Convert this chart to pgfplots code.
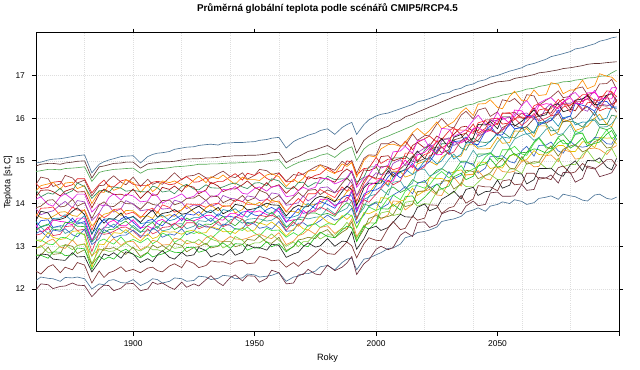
\documentclass[border=0pt]{standalone}
\usepackage{fontspec}
\setmainfont{Liberation Sans}
\usepackage{pgfplots}
\usepackage{pgfplotstable}
\pgfplotsset{compat=1.18}

\definecolor{c1}{HTML}{4A7397}
\definecolor{c2}{HTML}{603030}
\definecolor{c3}{HTML}{55AA55}
\definecolor{c4}{HTML}{8B3A3A}
\definecolor{c5}{HTML}{E02020}
\definecolor{c6}{HTML}{FF8C00}
\definecolor{c7}{HTML}{2E8B57}
\definecolor{c8}{HTML}{A01010}
\definecolor{c9}{HTML}{E020E0}
\definecolor{c10}{HTML}{7B3F2F}
\definecolor{c11}{HTML}{A040C0}
\definecolor{c12}{HTML}{FF3030}
\definecolor{c13}{HTML}{E8A000}
\definecolor{c14}{HTML}{101010}
\definecolor{c15}{HTML}{1890B0}
\definecolor{c16}{HTML}{2040E0}
\definecolor{c17}{HTML}{FF00CC}
\definecolor{c18}{HTML}{30B030}
\definecolor{c19}{HTML}{40A0A0}
\definecolor{c20}{HTML}{E03050}
\definecolor{c21}{HTML}{3060C0}
\definecolor{c22}{HTML}{E6C000}
\definecolor{c23}{HTML}{40E040}
\definecolor{c24}{HTML}{F09030}
\definecolor{c25}{HTML}{80D040}
\definecolor{c26}{HTML}{808020}
\definecolor{c27}{HTML}{20C020}
\definecolor{c28}{HTML}{202020}
\definecolor{c29}{HTML}{7A3030}
\definecolor{c30}{HTML}{4A7397}
\definecolor{c31}{HTML}{6A2A3A}

\pgfplotscreateplotcyclelist{models}{
c1\\c2\\c3\\c4\\c5\\c6\\c7\\c8\\c9\\c10\\c11\\c12\\c13\\c14\\c15\\c16\\c17\\c18\\c19\\c20\\c21\\c22\\c23\\c24\\c25\\c26\\c27\\c28\\c29\\c30\\c31\\
}

\pgfplotstableread{
year s1 s2 s3 s4 s5 s6 s7 s8 s9 s10 s11 s12 s13 s14 s15 s16 s17 s18 s19 s20 s21 s22 s23 s24 s25 s26 s27 s28 s29 s30 s31
1860 14.95 14.88 14.75 14.45 14.47 14.30 14.31 14.16 14.10 13.90 13.88 13.70 13.76 13.60 13.58 13.45 13.50 13.36 13.40 13.26 13.30 13.15 13.14 12.96 12.94 12.80 12.79 12.66 12.42 12.20 11.98
1862 14.97 14.92 14.77 14.62 14.35 14.42 14.16 14.31 14.16 13.94 13.74 13.89 13.67 13.82 13.45 13.60 13.34 13.46 13.45 13.29 13.36 13.11 13.15 12.98 13.02 12.79 12.79 12.82 12.35 12.28 12.12
1865 15.02 14.94 14.80 14.58 14.38 14.46 14.25 14.32 13.98 14.08 13.80 13.90 13.64 13.78 13.50 13.62 13.40 13.52 13.30 13.45 13.20 13.32 13.05 13.12 12.85 12.98 12.72 12.80 12.52 12.25 12.10
1867 15.04 14.94 14.80 14.40 14.50 14.50 14.22 14.28 13.94 14.09 13.83 13.92 13.70 13.61 13.65 13.44 13.62 13.40 13.44 13.25 13.38 13.21 13.04 13.17 12.85 12.81 12.87 12.70 12.57 12.24 12.01
1870 15.05 14.92 14.79 14.46 14.52 14.33 14.36 14.18 14.16 13.92 13.97 13.72 13.80 13.63 13.66 13.48 13.58 13.38 13.46 13.28 13.35 13.16 13.20 12.98 13.00 12.83 12.86 12.68 12.38 12.18 12.06
1872 15.07 14.95 14.82 14.66 14.39 14.48 14.22 14.29 14.23 13.94 14.05 13.69 13.81 13.67 13.74 13.47 13.57 13.56 13.30 13.46 13.41 13.18 13.21 12.95 13.03 13.04 12.78 12.67 12.51 12.27 12.07
1875 15.10 14.97 14.83 14.60 14.44 14.50 14.30 14.35 14.10 14.10 13.90 13.92 13.72 13.82 13.58 13.66 13.50 13.55 13.38 13.48 13.27 13.35 13.13 13.15 12.92 13.00 12.80 12.85 12.45 12.26 12.14
1877 15.12 14.99 14.84 14.48 14.58 14.35 14.48 14.27 14.22 13.94 14.07 13.85 13.70 13.90 13.57 13.52 13.66 13.47 13.57 13.37 13.22 13.36 13.31 13.02 13.02 12.83 12.96 12.75 12.62 12.28 12.09
1880 15.14 15.00 14.86 14.55 14.58 14.42 14.40 14.28 14.22 14.02 14.04 13.84 13.86 13.74 13.72 13.58 13.66 13.46 13.52 13.40 13.40 13.26 13.28 13.06 13.05 12.92 12.94 12.76 12.56 12.24 12.08
1883 14.72 14.60 14.52 14.18 14.25 14.00 14.12 13.90 13.80 13.65 13.60 13.38 13.48 13.28 13.30 13.12 13.14 13.10 13.10 12.88 13.04 12.50 12.76 12.78 12.60 12.58 12.46 12.40 12.14 12.00 11.82
1886 14.92 14.86 14.73 14.42 14.45 14.28 14.30 14.22 13.98 13.97 13.78 13.76 13.64 13.67 13.49 13.52 13.38 13.42 13.28 13.32 13.18 13.05 13.12 12.94 12.92 12.78 12.77 12.64 12.42 12.12 12.00
1888 14.98 14.88 14.76 14.43 14.55 14.26 14.31 14.34 13.94 14.04 13.97 13.67 13.75 13.54 13.64 13.63 13.42 13.31 13.45 13.28 13.39 13.04 13.17 12.90 12.92 12.96 12.69 12.82 12.27 12.10 12.09
1890 15.02 14.91 14.78 14.56 14.40 14.44 14.26 14.28 14.14 13.94 13.95 13.74 13.78 13.65 13.64 13.50 13.56 13.39 13.44 13.30 13.33 13.20 13.10 13.08 12.88 12.94 12.75 12.78 12.38 12.20 12.08
1892 15.05 14.94 14.80 14.65 14.39 14.31 14.39 14.21 14.23 13.93 13.80 13.86 13.85 13.63 13.64 13.44 13.61 13.40 13.52 13.35 13.20 13.32 13.05 13.18 12.89 12.97 12.70 12.85 12.42 12.22 11.96
1895 15.10 14.95 14.81 14.50 14.53 14.38 14.36 14.22 14.08 14.06 13.88 13.88 13.72 13.78 13.58 13.64 13.48 13.52 13.38 13.44 13.26 13.30 13.22 13.02 13.00 12.88 12.88 12.72 12.52 12.15 12.02
1897 15.11 14.97 14.82 14.44 14.56 14.56 14.29 14.18 14.22 14.00 14.07 13.75 13.84 13.63 13.66 13.70 13.48 13.59 13.31 13.45 13.26 13.39 13.09 13.10 13.07 12.81 12.93 12.87 12.41 12.14 12.12
1900 15.12 14.97 14.83 14.62 14.45 14.49 14.31 14.34 14.18 13.99 13.99 13.80 13.83 13.70 13.69 13.56 13.62 13.44 13.49 13.36 13.38 13.24 13.16 13.12 12.95 12.98 12.81 12.82 12.46 12.22 12.13
1903 14.95 14.83 14.71 14.40 14.42 14.26 14.28 14.12 14.04 13.87 13.83 13.66 13.69 13.56 13.53 13.41 13.43 13.32 13.34 13.20 13.24 13.12 13.08 12.92 12.89 12.76 12.73 12.62 12.38 12.08 11.96
1906 15.10 14.93 14.80 14.57 14.42 14.45 14.27 14.29 14.06 14.04 13.86 13.85 13.71 13.75 13.56 13.60 13.47 13.49 13.36 13.41 13.25 13.29 13.19 13.01 12.99 12.86 12.85 12.71 12.49 12.16 12.00
1908 15.15 14.95 14.81 14.45 14.50 14.28 14.41 14.19 14.23 13.98 13.82 13.89 13.65 13.85 13.57 13.63 13.41 13.56 13.39 13.29 13.43 13.18 13.06 13.14 12.92 13.03 12.75 12.64 12.51 12.24 12.16
1910 15.18 14.96 14.82 14.50 14.52 14.37 14.37 14.21 14.17 13.96 13.97 13.78 13.81 13.68 13.67 13.53 13.59 13.42 13.47 13.34 13.36 13.22 13.13 13.11 12.92 12.96 12.79 12.80 12.43 12.22 12.11
1912 15.19 14.98 14.82 14.45 14.50 14.53 14.27 14.38 14.01 14.07 13.87 13.97 13.68 13.77 13.73 13.48 13.63 13.58 13.36 13.44 13.21 13.35 13.31 13.03 12.88 13.02 12.82 12.90 12.40 12.14 12.14
1915 15.22 14.98 14.84 14.61 14.44 14.49 14.30 14.33 14.10 14.08 13.89 13.91 13.74 13.80 13.60 13.66 13.51 13.53 13.40 13.46 13.29 13.33 13.24 13.04 13.03 12.90 12.90 12.74 12.54 12.18 12.04
1917 15.27 14.99 14.86 14.72 14.46 14.53 14.23 14.41 14.14 13.97 14.08 13.80 13.70 13.86 13.63 13.75 13.52 13.39 13.52 13.54 13.26 13.34 13.09 13.19 12.95 13.07 12.86 12.70 12.59 12.26 11.99
1920 15.30 15.02 14.87 14.56 14.57 14.44 14.40 14.28 14.23 14.03 14.03 13.85 13.86 13.75 13.73 13.60 13.66 13.48 13.53 13.42 13.41 13.28 13.20 13.15 12.98 13.02 12.85 12.86 12.50 12.24 12.16
1922 15.32 15.04 14.88 14.64 14.63 14.38 14.45 14.43 14.12 14.12 13.88 13.99 13.95 13.77 13.60 13.76 13.60 13.66 13.41 13.55 13.27 13.35 13.35 13.06 13.14 12.87 12.97 12.77 12.67 12.18 12.04
1925 15.33 15.05 14.90 14.66 14.50 14.55 14.34 14.38 14.17 14.13 13.97 13.98 13.80 13.88 13.67 13.73 13.60 13.58 13.47 13.55 13.35 13.38 13.30 13.10 13.08 12.97 12.98 12.80 12.60 12.20 12.12
1927 15.36 15.05 14.92 14.71 14.51 14.64 14.32 14.23 14.28 14.20 13.94 13.98 13.72 13.94 13.67 13.81 13.64 13.45 13.60 13.41 13.53 13.30 13.34 13.03 13.16 12.99 12.86 12.97 12.50 12.30 12.07
1930 15.38 15.07 14.92 14.60 14.60 14.49 14.44 14.32 14.28 14.07 14.08 13.91 13.90 13.81 13.78 13.66 13.72 13.52 13.58 13.48 13.45 13.32 13.25 13.20 13.03 13.07 12.91 12.90 12.55 12.28 12.22
1932 15.39 15.07 14.93 14.60 14.46 14.63 14.37 14.50 14.15 14.18 13.93 13.98 13.97 13.79 13.85 13.58 13.73 13.51 13.66 13.43 13.45 13.46 13.17 13.25 13.17 12.96 13.00 12.75 12.66 12.22 12.31
1935 15.37 15.08 14.93 14.70 14.52 14.58 14.36 14.41 14.20 14.16 14.00 14.01 13.83 13.91 13.70 13.76 13.63 13.61 13.50 13.58 13.38 13.41 13.33 13.13 13.11 13.00 13.01 12.83 12.63 12.25 12.15
1937 15.41 15.10 14.94 14.76 14.52 14.67 14.39 14.28 14.33 14.02 14.19 13.93 13.95 13.76 13.86 13.70 13.61 13.70 13.48 13.46 13.52 13.34 13.43 13.11 12.96 13.11 13.08 12.79 12.64 12.32 12.08
1940 15.42 15.11 14.95 14.63 14.63 14.53 14.46 14.35 14.32 14.10 14.12 13.95 13.94 13.85 13.82 13.70 13.77 13.55 13.62 13.53 13.49 13.35 13.28 13.23 13.05 13.11 12.95 12.93 12.58 12.30 12.27
1942 15.43 15.12 14.95 14.61 14.70 14.45 14.48 14.34 14.40 14.05 14.11 14.09 13.78 13.98 13.88 13.67 13.77 13.48 13.65 13.70 13.40 13.30 13.42 13.17 13.23 12.99 13.06 12.79 12.65 12.24 12.33
1945 15.43 15.12 14.96 14.72 14.55 14.62 14.39 14.44 14.24 14.19 14.04 14.05 13.86 13.95 13.74 13.80 13.68 13.64 13.54 13.63 13.41 13.44 13.37 13.16 13.14 13.04 13.05 12.86 12.67 12.26 12.19
1947 15.44 15.13 14.97 14.57 14.71 14.56 14.35 14.53 14.22 14.06 14.18 13.98 14.04 13.85 13.68 13.82 13.84 13.52 13.63 13.47 13.56 13.35 13.45 13.19 13.01 13.16 12.91 13.04 12.59 12.35 12.31
1950 15.45 15.13 14.97 14.66 14.66 14.56 14.48 14.38 14.35 14.13 14.15 13.98 13.97 13.88 13.85 13.73 13.80 13.58 13.65 13.56 13.52 13.38 13.31 13.26 13.08 13.14 12.98 12.96 12.61 12.33 12.30
1952 15.48 15.14 14.99 14.80 14.73 14.54 14.49 14.32 14.39 14.31 14.07 13.95 14.03 13.92 13.95 13.71 13.83 13.53 13.64 13.73 13.42 13.55 13.24 13.29 13.08 13.24 12.95 12.97 12.76 12.28 12.16
1955 15.50 15.16 15.00 14.77 14.59 14.67 14.42 14.49 14.29 14.24 14.09 14.11 13.91 14.01 13.79 13.86 13.74 13.69 13.59 13.69 13.46 13.49 13.42 13.21 13.19 13.09 13.11 12.91 12.72 12.30 12.25
1957 15.53 15.19 15.01 14.68 14.53 14.70 14.58 14.38 14.39 14.09 14.25 14.03 14.08 13.97 13.76 13.91 13.71 13.80 13.61 13.73 13.40 13.57 13.37 13.18 13.29 13.07 12.99 13.05 12.66 12.32 12.44
1960 15.55 15.20 15.03 14.72 14.71 14.63 14.53 14.44 14.42 14.19 14.22 14.06 14.03 13.96 13.92 13.81 13.89 13.64 13.72 13.65 13.58 13.44 13.38 13.32 13.14 13.21 13.06 13.02 12.68 12.38 12.38
1963 15.30 14.96 14.82 14.52 14.51 14.40 14.36 14.24 14.16 13.99 13.96 13.81 13.80 13.71 13.66 13.56 13.58 13.44 13.46 13.37 13.35 13.24 13.21 13.04 13.00 12.90 12.87 12.74 12.51 12.18 12.12
1966 15.45 15.06 14.91 14.68 14.52 14.57 14.36 14.40 14.19 14.15 13.99 14.00 13.82 13.90 13.69 13.75 13.62 13.60 13.49 13.57 13.37 13.40 13.32 13.12 13.10 12.99 13.00 12.82 12.62 12.28 12.14
1968 15.51 15.10 14.96 14.66 14.73 14.49 14.49 14.30 14.31 14.26 14.02 14.12 13.78 13.96 13.73 13.88 13.63 13.64 13.68 13.47 13.54 13.51 13.25 13.25 12.99 13.15 13.13 12.86 12.53 12.30 12.33
1970 15.55 15.16 15.00 14.69 14.68 14.59 14.50 14.41 14.38 14.16 14.18 14.02 14.00 13.92 13.88 13.77 13.84 13.61 13.68 13.60 13.55 13.41 13.34 13.29 13.11 13.17 13.02 12.99 12.64 12.36 12.34
1972 15.60 15.22 15.03 14.76 14.57 14.76 14.39 14.63 14.33 14.31 14.06 14.23 13.96 13.93 14.00 13.80 13.75 13.78 13.64 13.83 13.47 13.38 13.49 13.39 13.11 13.21 12.99 13.08 12.68 12.36 12.46
1975 15.65 15.26 15.08 14.86 14.66 14.78 14.49 14.58 14.38 14.33 14.18 14.23 13.98 14.12 13.88 13.98 13.86 13.78 13.68 13.82 13.53 13.58 13.53 13.28 13.28 13.18 13.22 12.98 12.83 12.42 12.35
1977 15.71 15.30 15.13 14.91 14.69 14.90 14.47 14.61 14.58 14.21 14.37 14.33 14.00 14.17 13.87 14.05 14.10 13.73 13.69 13.92 13.60 13.71 13.44 13.44 13.17 13.31 13.33 13.01 12.94 12.52 12.33
1980 15.75 15.36 15.17 14.85 14.84 14.78 14.64 14.57 14.59 14.32 14.39 14.23 14.18 14.13 14.09 13.98 14.10 13.77 13.89 13.84 13.73 13.57 13.53 13.48 13.27 13.39 13.23 13.18 12.83 12.55 12.56
1983 15.62 15.26 15.08 14.78 14.72 14.70 14.56 14.50 14.46 14.25 14.26 14.14 14.06 14.04 13.96 13.89 13.94 13.70 13.76 13.73 13.61 13.50 13.51 13.30 13.26 13.20 13.20 13.00 12.81 12.45 12.43
1986 15.78 15.41 15.22 14.99 14.78 14.93 14.58 14.72 14.53 14.47 14.33 14.39 14.12 14.28 14.03 14.14 14.05 13.92 13.83 14.01 13.67 13.72 13.68 13.42 13.42 13.33 13.38 13.12 12.98 12.62 12.51
1988 15.85 15.47 15.28 14.91 15.00 14.87 14.57 14.81 14.61 14.60 14.38 14.29 14.28 14.41 14.06 14.19 14.06 14.02 13.89 14.15 13.76 13.63 13.77 13.42 13.56 13.40 13.47 13.11 13.10 12.70 12.61
1990 15.90 15.54 15.33 15.01 14.97 14.96 14.76 14.73 14.77 14.48 14.57 14.43 14.34 14.33 14.27 14.18 14.32 13.93 14.07 14.06 13.89 13.73 13.71 13.64 13.43 13.57 13.43 13.34 13.01 12.72 12.76
1992 15.62 15.18 15.01 14.71 14.67 14.62 14.50 14.43 14.38 14.18 14.18 14.05 13.99 13.95 13.88 13.80 13.85 13.63 13.68 13.64 13.54 13.43 13.43 13.23 13.19 13.12 13.11 12.93 12.73 12.45 12.34
1995 15.85 15.48 15.28 15.06 14.82 15.01 14.62 14.79 14.60 14.54 14.40 14.47 14.18 14.37 14.10 14.22 14.13 13.99 13.90 14.09 13.73 13.79 13.76 13.48 13.49 13.40 13.47 13.18 13.06 12.70 12.59
1997 15.96 15.57 15.37 15.14 14.83 15.12 14.86 14.77 14.66 14.66 14.53 14.65 14.24 14.48 14.15 14.29 14.42 13.95 14.17 14.03 13.93 13.76 13.92 13.53 13.55 13.65 13.40 13.41 13.20 12.72 12.68
2000 16.05 15.68 15.45 15.13 15.08 15.09 14.86 14.84 14.92 14.59 14.72 14.57 14.47 14.47 14.42 14.32 14.50 14.04 14.22 14.22 14.02 13.84 13.84 13.77 13.54 13.72 13.57 13.47 13.14 12.80 12.93
2002 16.09 15.75 15.52 15.40 14.94 15.28 14.67 15.10 14.83 14.87 14.68 14.60 14.55 14.48 14.58 14.39 14.59 14.02 14.34 14.35 13.89 14.14 13.89 13.63 13.78 13.66 13.88 13.37 13.13 12.85 13.00
2005 16.12 15.81 15.58 15.40 15.04 15.38 14.81 15.12 14.90 14.87 14.70 14.88 14.44 14.77 14.40 14.63 14.51 14.32 14.20 14.55 13.99 14.12 14.13 13.74 13.82 13.70 13.87 13.44 13.43 12.95 12.92
2007 16.16 15.89 15.63 15.46 15.04 15.39 15.07 15.00 15.21 14.67 14.94 14.79 14.76 14.63 14.61 14.74 14.53 14.39 14.50 14.44 14.20 13.93 14.20 14.06 13.72 13.74 13.98 13.56 13.58 12.96 12.97
2010 16.22 15.95 15.70 15.35 15.32 15.34 15.07 15.06 15.23 14.81 15.03 14.85 14.75 14.75 14.73 14.60 14.87 14.26 14.53 14.53 14.30 14.06 14.09 14.05 13.76 14.03 13.85 13.75 13.39 13.05 13.26
2012 16.26 16.03 15.75 15.35 15.46 15.43 15.11 15.05 15.34 14.92 14.89 15.18 14.62 14.79 14.81 14.72 15.02 14.32 14.35 14.78 14.40 14.09 14.29 13.85 14.03 13.93 14.16 13.69 13.42 13.20 13.34
2015 16.32 16.09 15.82 15.63 15.26 15.66 14.99 15.36 15.18 15.11 14.98 15.18 14.68 15.08 14.68 14.94 14.84 14.56 14.48 14.89 14.23 14.36 14.41 13.98 14.06 13.98 14.18 13.68 13.71 13.25 13.23
2017 16.38 16.14 15.89 15.48 15.43 15.76 14.96 15.43 15.47 14.98 15.19 15.01 14.93 15.23 14.77 14.79 15.14 14.49 14.81 14.76 14.47 14.19 14.42 14.27 13.94 14.28 14.00 13.91 13.61 13.32 13.56
2020 16.42 16.21 15.94 15.59 15.52 15.61 15.25 15.30 15.50 15.05 15.30 15.15 14.99 15.05 15.00 14.90 15.20 14.50 14.80 14.86 14.54 14.30 14.36 14.29 14.00 14.30 14.15 13.99 13.66 13.35 13.57
2022 16.46 16.26 16.00 15.60 15.58 15.71 15.37 15.35 15.31 15.26 15.40 15.19 14.99 15.04 15.09 14.98 15.31 14.61 14.64 15.12 14.36 14.61 14.44 14.33 13.98 14.40 14.27 13.83 13.97 13.38 13.44
2025 16.52 16.33 16.04 15.86 15.44 15.91 15.16 15.58 15.43 15.33 15.23 15.47 14.90 15.37 14.93 15.22 15.14 14.78 14.73 15.19 14.45 14.58 14.66 14.20 14.28 14.23 14.46 13.90 13.96 13.45 13.51
2027 16.57 16.38 16.10 15.99 15.50 15.75 15.40 15.51 15.76 15.18 15.47 15.30 15.08 15.52 15.00 15.33 15.15 14.82 14.81 15.33 14.47 14.59 14.75 14.19 14.35 14.52 14.34 14.10 13.77 13.58 13.76
2030 16.60 16.45 16.15 15.80 15.70 15.85 15.40 15.51 15.74 15.26 15.54 15.41 15.20 15.31 15.24 15.16 15.49 14.71 15.04 15.15 14.75 14.51 14.60 14.50 14.21 14.54 14.41 14.20 13.90 13.62 13.83
2032 16.66 16.50 16.21 15.77 15.78 15.92 15.49 15.62 15.57 15.49 15.36 15.74 15.09 15.55 15.04 15.45 15.42 14.73 15.16 15.21 14.58 14.75 14.70 14.62 14.26 14.34 14.63 14.29 13.93 13.64 13.84
2035 16.70 16.56 16.25 16.07 15.61 16.14 15.30 15.79 15.66 15.54 15.46 15.72 15.11 15.62 15.16 15.47 15.42 14.99 14.96 15.47 14.66 14.79 14.89 14.41 14.49 14.46 14.71 14.11 14.19 13.70 13.76
2037 16.76 16.60 16.30 16.16 15.65 16.24 15.25 15.81 15.73 15.65 15.48 15.72 15.37 15.42 15.41 15.56 15.49 14.99 14.95 15.53 14.96 14.67 14.72 14.67 14.40 14.78 14.56 14.33 14.01 13.80 13.94
2040 16.80 16.66 16.33 15.98 15.86 16.06 15.54 15.69 15.95 15.44 15.75 15.64 15.38 15.54 15.45 15.39 15.75 14.89 15.25 15.41 14.93 14.69 14.81 14.68 14.39 14.75 14.64 14.38 14.11 13.85 14.06
2042 16.86 16.70 16.38 16.19 15.65 16.33 15.45 15.71 16.07 15.48 15.58 15.89 15.28 15.85 15.32 15.38 15.78 15.16 15.09 15.61 14.71 14.95 14.87 14.77 14.50 14.58 14.88 14.19 14.42 13.90 13.95
2045 16.90 16.76 16.42 16.24 15.76 16.34 15.43 15.96 15.86 15.71 15.66 15.94 15.28 15.84 15.36 15.69 15.67 15.16 15.16 15.72 14.83 14.96 15.09 14.58 14.66 14.66 14.93 14.28 14.39 13.82 13.98
2047 16.96 16.80 16.47 16.04 15.98 16.43 15.45 15.96 15.84 15.75 15.96 15.83 15.29 15.92 15.46 15.82 15.71 15.19 15.16 15.71 15.10 14.82 15.19 14.55 14.68 14.72 15.05 14.29 14.39 13.94 14.25
2050 17.00 16.85 16.50 16.15 16.00 16.25 15.66 15.86 16.14 15.61 15.94 15.85 15.55 15.75 15.64 15.60 15.98 15.06 15.44 15.64 15.10 14.86 15.00 14.85 14.56 14.94 14.85 14.55 14.30 13.98 14.27
2052 17.04 16.86 16.54 16.43 15.86 16.22 15.68 16.12 15.97 15.78 15.72 16.11 15.41 16.03 15.56 15.61 16.02 15.05 15.56 15.72 15.12 14.83 15.26 14.75 14.57 15.05 14.89 14.36 14.53 14.04 14.17
2055 17.10 16.88 16.57 16.39 15.89 16.51 15.55 16.11 16.03 15.86 15.83 16.13 15.43 16.03 15.53 15.88 15.88 15.31 15.33 15.93 14.98 15.11 15.26 14.73 14.81 14.83 15.12 14.43 14.56 14.00 14.17
2057 17.13 16.93 16.60 16.46 15.97 16.63 15.54 16.14 16.03 15.84 16.10 15.99 15.70 15.81 15.74 15.75 16.19 15.13 15.51 16.00 14.95 15.16 15.34 14.76 14.81 14.81 15.17 14.72 14.44 14.09 14.18
2060 17.18 16.96 16.64 16.29 16.12 16.41 15.77 16.00 16.30 15.75 16.10 16.03 15.69 15.93 15.80 15.78 16.17 15.20 15.60 15.83 15.24 15.00 15.16 14.99 14.70 15.10 15.03 14.69 14.46 14.05 14.45
2062 17.24 16.98 16.68 16.55 16.03 16.41 15.80 15.98 16.41 15.80 16.12 16.00 15.76 16.02 15.62 16.07 16.02 15.19 15.64 15.92 15.34 15.03 15.13 15.00 14.95 14.92 15.20 14.46 14.71 13.98 14.31
2065 17.28 17.02 16.70 16.52 16.00 16.66 15.64 16.24 16.18 15.99 15.98 16.29 15.56 16.19 15.68 16.04 16.06 15.44 15.48 16.11 15.11 15.24 15.41 14.86 14.94 14.98 15.28 14.56 14.71 14.02 14.33
2067 17.32 17.06 16.74 16.30 16.19 16.53 15.91 16.06 16.35 16.06 15.95 16.34 15.82 16.04 15.86 15.83 16.29 15.55 15.54 15.93 15.36 15.15 15.53 14.87 14.97 14.97 15.26 14.82 14.57 14.12 14.61
2070 17.38 17.08 16.77 16.42 16.23 16.55 15.86 16.13 16.44 15.88 16.24 16.18 15.82 16.08 15.94 15.93 16.34 15.33 15.74 16.00 15.37 15.13 15.30 15.12 14.83 15.24 15.18 14.82 14.60 14.15 14.60
2072 17.44 17.10 16.80 16.49 16.05 16.83 15.70 16.12 16.48 15.95 16.34 16.22 15.59 16.28 16.01 15.94 16.32 15.28 15.80 16.06 15.44 15.22 15.29 15.14 14.81 15.35 15.24 14.83 14.56 14.18 14.67
2075 17.48 17.13 16.82 16.64 16.10 16.79 15.73 16.36 16.31 16.11 16.11 16.44 15.68 16.34 15.81 16.19 16.22 15.56 15.61 16.27 15.23 15.36 15.54 14.98 15.06 15.11 15.43 14.68 14.84 14.10 14.48
2077 17.51 17.16 16.85 16.48 16.26 16.57 15.92 16.45 16.36 15.91 16.35 16.33 15.97 16.15 16.01 15.98 16.38 15.62 15.64 16.35 15.18 15.36 15.40 15.26 14.86 15.27 15.49 14.64 14.88 14.22 14.73
2080 17.56 17.18 16.86 16.51 16.31 16.66 15.93 16.22 16.55 15.97 16.35 16.30 15.91 16.20 16.05 16.05 16.48 15.42 15.85 16.14 15.46 15.22 15.41 15.21 14.92 15.35 15.30 14.91 14.71 14.18 14.72
2082 17.62 17.20 16.89 16.69 16.38 16.66 15.90 16.17 16.60 16.01 16.42 16.40 15.71 16.42 15.84 16.35 16.34 15.62 15.62 16.40 15.35 15.22 15.69 15.04 14.91 15.38 15.37 15.00 14.74 14.16 14.50
2085 17.65 17.23 16.91 16.73 16.18 16.89 15.79 16.45 16.41 16.20 16.21 16.55 15.77 16.45 15.91 16.30 16.34 15.65 15.71 16.39 15.32 15.45 15.64 15.07 15.15 15.21 15.54 14.77 14.94 14.08 14.59
2087 17.69 17.26 16.94 16.55 16.36 16.69 15.92 16.51 16.44 16.27 16.16 16.55 15.81 16.54 15.90 16.27 16.59 15.42 15.93 16.46 15.34 15.43 15.42 15.28 15.24 15.26 15.35 15.01 14.84 14.06 14.88
2090 17.74 17.28 16.95 16.60 16.38 16.76 15.99 16.31 16.65 16.06 16.45 16.41 16.00 16.31 16.15 16.16 16.60 15.51 15.95 16.26 15.55 15.31 15.51 15.30 15.01 15.45 15.41 15.00 14.81 14.20 14.83
2092 17.80 17.28 16.98 16.80 16.17 17.04 15.85 16.50 16.42 16.30 16.34 16.41 16.09 16.33 15.95 16.38 16.48 15.78 15.79 16.22 15.55 15.55 15.50 15.27 14.95 15.50 15.44 15.07 14.89 14.22 14.63
2095 17.84 17.30 16.99 16.81 16.24 16.98 15.85 16.53 16.50 16.28 16.30 16.64 15.85 16.54 16.00 16.39 16.45 15.73 15.80 16.50 15.40 15.53 15.73 15.15 15.23 15.30 15.63 14.85 15.03 14.12 14.68
2097 17.88 17.31 17.06 16.91 16.21 16.96 16.07 16.31 16.71 16.34 16.31 16.62 15.80 16.57 16.27 16.26 16.45 15.78 15.87 16.61 15.39 15.54 15.52 15.29 15.29 15.32 15.71 14.79 15.03 14.10 14.72
2099 17.90 17.32 17.12 16.68 16.44 16.85 16.04 16.40 16.72 16.14 16.52 16.50 16.06 16.41 16.22 16.26 16.70 15.58 16.02 16.37 15.61 15.39 15.59 15.36 15.08 15.52 15.50 15.06 14.89 14.15 14.91
}\data

\begin{document}
\begin{tikzpicture}
\useasboundingbox (-0.9cm,-0.9325cm) rectangle (15.1cm,8.2925cm);
\begin{axis}[
  at={(0,0)}, anchor=south west,
  scale only axis, width=14.575cm, height=7.475cm,
  xmin=1860, xmax=2100, ymin=11, ymax=18,
  xtick={1900,1950,2000,2050,2100},
  xticklabels={1900,1950,2000,2050,{}},
  ytick={12,13,14,15,16,17},
  minor xtick={1880,1900,1920,1940,1960,1980,2000,2020,2040,2060,2080},
  minor tick length=0pt,
  xminorgrids=true, xmajorgrids=false, ymajorgrids=true,
  grid style={densely dotted, color=black!13, line width=0.45pt},
  minor grid style={densely dotted, color=black!13, line width=0.45pt},
  xtick pos=both, ytick pos=both,
  xticklabel pos=lower, yticklabel pos=left,
  tick align=outside,
  major tick length=0.1cm,
  tick style={black, line width=0.5pt},
  axis line style={black, line width=0.6pt},
  /pgf/number format/assume math mode=true,
  /pgf/number format/1000 sep={},
  ticklabel style={font=\fontsize{6}{7}\selectfont},
  yticklabel style={xshift=-1.5pt},
  xlabel={Roky}, ylabel={Teplota [st.C]},
  label style={font=\fontsize{6.5}{8}\selectfont},
  xlabel style={at={(axis description cs:0.5,-0.088)}, anchor=center},
  ylabel style={at={(axis description cs:-0.048,0.5)}, anchor=center},
  title={Průměrná globální teplota podle scénářů CMIP5/RCP4.5},
  title style={font=\bfseries\fontsize{7}{8}\selectfont, yshift=4pt},
  cycle list name=models,
  every axis plot/.append style={line width=0.45pt, no markers},
]
\pgfplotsinvokeforeach{1,...,31}{
  \addplot table[x=year, y=s#1] {\data};
}
\end{axis}
\end{tikzpicture}
\end{document}
